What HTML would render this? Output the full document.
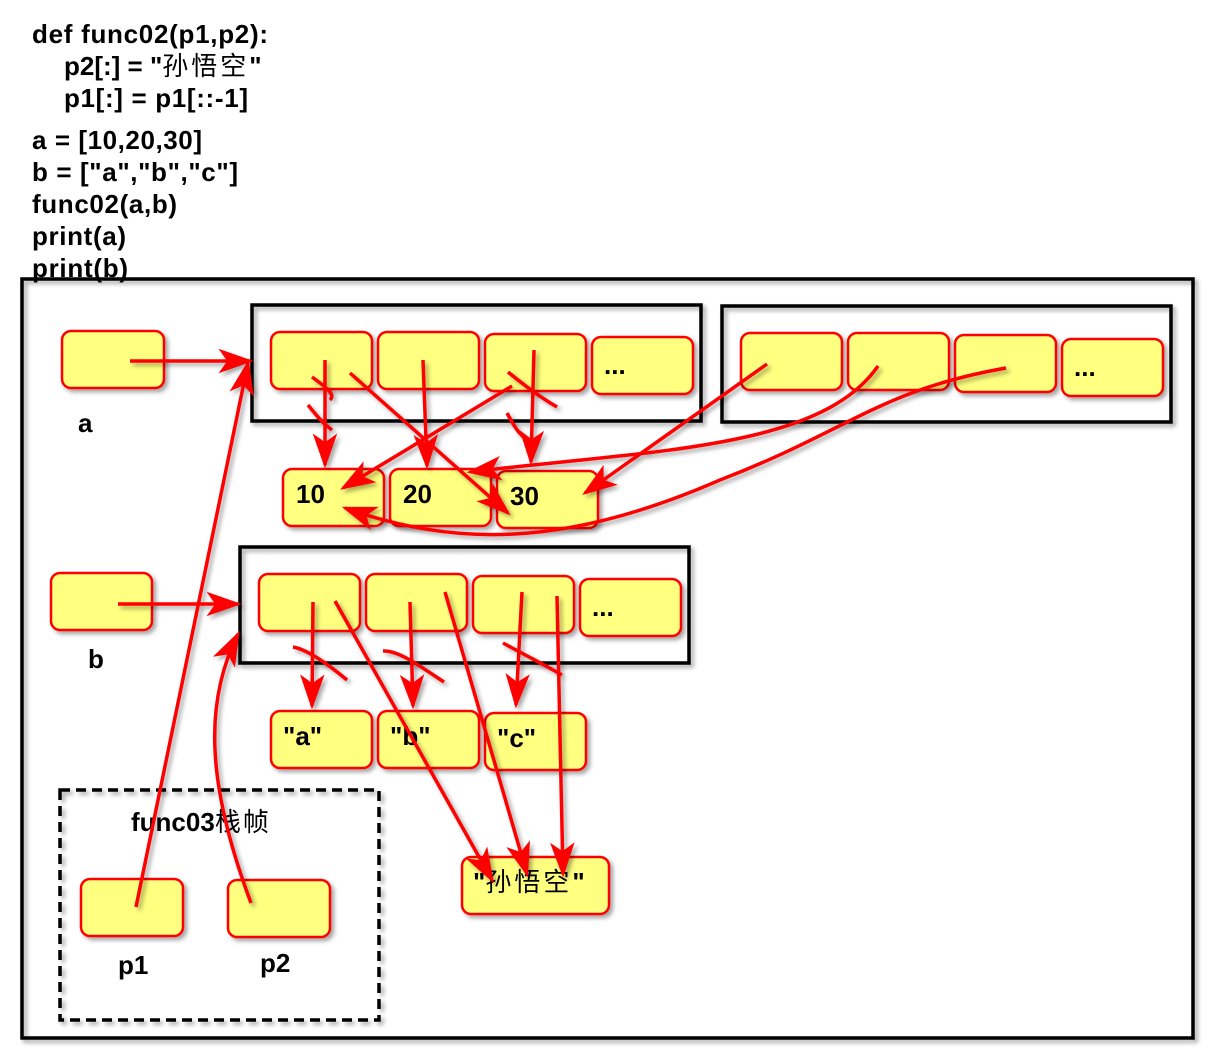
<!DOCTYPE html>
<html><head><meta charset="utf-8"><style>
html,body{margin:0;padding:0;background:#fff;}
svg{display:block;}
text{font-family:"Liberation Sans","Noto Sans CJK SC",sans-serif;font-weight:bold;fill:#000;}
.c{fill:#ffff80;stroke:#f00;stroke-width:2.5;}
.f{fill:none;stroke:#000;stroke-width:3.5;}
.a{fill:none;stroke:#f00;stroke-width:3.5;marker-end:url(#ah);}
.x{fill:none;stroke:#f00;stroke-width:3.5;}
</style></head><body>
<svg width="1227" height="1052" viewBox="0 0 1227 1052" xmlns="http://www.w3.org/2000/svg">
<defs>
<marker id="ah" markerWidth="10" markerHeight="8" refX="9" refY="4" orient="auto" markerUnits="strokeWidth"><path d="M0,0.5 L10,4 L0,7.5 L2.5,4z" fill="#f00"/></marker>
<filter id="sh"><feDropShadow dx="3" dy="3" stdDeviation="2" flood-opacity="0.35"/></filter>
</defs>
<g font-size="26">
<text x="32" y="43" textLength="236">def func02(p1,p2):</text>
<text x="64" y="75">p2[:] = "<tspan font-weight="normal" letter-spacing="3">孙悟空</tspan>"</text>
<text x="64" y="107" textLength="184">p1[:] = p1[::-1]</text>
<text x="32" y="149" textLength="170">a = [10,20,30]</text>
<text x="32" y="181" textLength="206">b = ["a","b","c"]</text>
<text x="32" y="213" textLength="145">func02(a,b)</text>
<text x="32" y="245" textLength="94">print(a)</text>
<text x="32" y="277" textLength="96">print(b)</text>
</g>
<g filter="url(#sh)">
<rect class="f" x="22" y="279" width="1171" height="759"/>
<rect class="f" x="252" y="305" width="449" height="116"/>
<rect class="f" x="722" y="306" width="449" height="116"/>
<rect class="f" x="240" y="547" width="449" height="116"/>
<rect x="60" y="790" width="319" height="230" fill="none" stroke="#000" stroke-width="3.5" stroke-dasharray="10,6"/>
</g>
<g filter="url(#sh)">
<rect class="c" x="62" y="331" width="102" height="57" rx="9"/>
<rect class="c" x="271" y="332" width="101" height="57" rx="9"/>
<rect class="c" x="378" y="332" width="101" height="57" rx="9"/>
<rect class="c" x="485" y="334" width="101" height="57" rx="9"/>
<rect class="c" x="592" y="337" width="101" height="57" rx="9"/>
<rect class="c" x="741" y="333" width="101" height="57" rx="9"/>
<rect class="c" x="848" y="333" width="101" height="57" rx="9"/>
<rect class="c" x="955" y="335" width="101" height="57" rx="9"/>
<rect class="c" x="1062" y="339" width="101" height="57" rx="9"/>
<rect class="c" x="283" y="469" width="101" height="57" rx="9"/>
<rect class="c" x="390" y="469" width="101" height="57" rx="9"/>
<rect class="c" x="497" y="471" width="101" height="57" rx="9"/>
<rect class="c" x="51" y="573" width="101" height="57" rx="9"/>
<rect class="c" x="259" y="574" width="101" height="57" rx="9"/>
<rect class="c" x="366" y="574" width="101" height="57" rx="9"/>
<rect class="c" x="473" y="576" width="101" height="57" rx="9"/>
<rect class="c" x="580" y="579" width="101" height="57" rx="9"/>
<rect class="c" x="271" y="711" width="101" height="57" rx="9"/>
<rect class="c" x="378" y="711" width="101" height="57" rx="9"/>
<rect class="c" x="485" y="713" width="101" height="57" rx="9"/>
<rect class="c" x="462" y="857" width="147" height="57" rx="9"/>
<rect class="c" x="81" y="879" width="102" height="57" rx="9"/>
<rect class="c" x="228" y="880" width="102" height="57" rx="9"/>
</g>
<g font-size="26">
<text x="604" y="374">...</text>
<text x="1074" y="376">...</text>
<text x="592" y="616">...</text>
<text x="296" y="503">10</text>
<text x="403" y="503">20</text>
<text x="510" y="505">30</text>
<text x="283" y="745">"a"</text>
<text x="390" y="745">"b"</text>
<text x="497" y="747">"c"</text>
<text x="473" y="891">"<tspan font-weight="normal" letter-spacing="3">孙悟空</tspan>"</text>
<text x="78" y="432">a</text>
<text x="88" y="668">b</text>
<text x="118" y="974">p1</text>
<text x="260" y="972">p2</text>
<text x="131" y="831">func03<tspan font-weight="normal" letter-spacing="2">栈帧</tspan></text>
</g>
<g filter="url(#sh)">
<path class="a" d="M130,361 L250,361"/>
<path class="a" d="M118,604 L238,604"/>
<path class="a" d="M136,907 L248,363"/>
<path class="a" d="M251,903 C205,780 205,700 238,634"/>
<path class="a" d="M325,360 L325,465"/>
<path class="a" d="M423,360 L427,466"/>
<path class="a" d="M534,350 L531,462"/>
<path class="a" d="M350,373 L508,513"/>
<path class="a" d="M512,386 L343,488"/>
<path class="a" d="M767,364 L585,493"/>
<path class="a" d="M878,366 C820,450 650,450 470,472"/>
<path class="a" d="M1006,368 C880,390 850,430 720,480 C560,550 450,545 345,508"/>
<path class="x" d="M312,377 C330,390 335,395 330,400"/>
<path class="x" d="M308,405 C320,420 325,425 332,430"/>
<path class="x" d="M508,372 C530,390 545,400 557,407"/>
<path class="x" d="M507,413 C515,428 522,440 535,443"/>
<path class="a" d="M313,602 L312,706"/>
<path class="a" d="M410,602 L413,706"/>
<path class="a" d="M522,592 L516,705"/>
<path class="a" d="M335,601 L492,880"/>
<path class="a" d="M445,592 L527,874"/>
<path class="a" d="M557,596 L563,874"/>
<path class="x" d="M293,647 C310,650 335,670 347,680"/>
<path class="x" d="M383,651 C400,650 425,670 444,682"/>
<path class="x" d="M503,643 C525,655 545,665 562,675"/>
</g>
</svg>
</body></html>
